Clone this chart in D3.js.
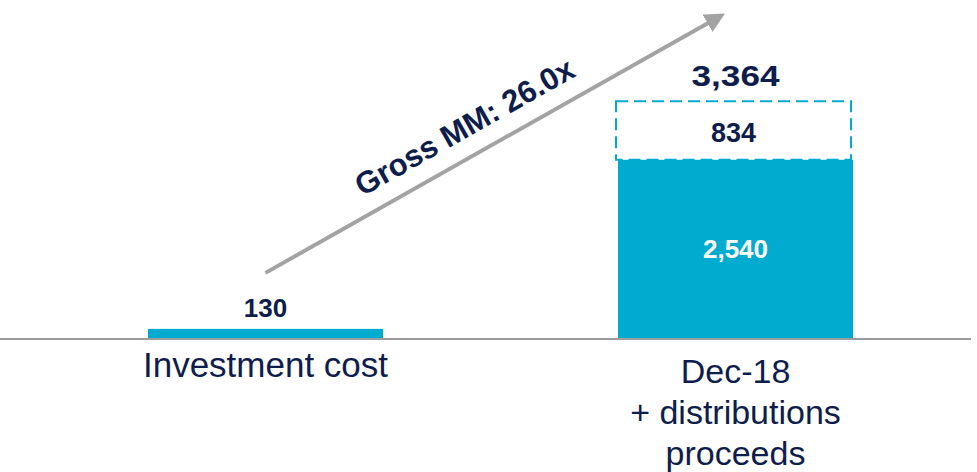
<!DOCTYPE html>
<html><head><meta charset="utf-8">
<script src="https://cdn.jsdelivr.net/npm/d3@7/dist/d3.min.js"></script>
<style>html,body{margin:0;padding:0;background:#fff;}svg{display:block;}</style>
</head><body>
<svg id="chart" width="977" height="472"></svg>
<script>
const categories = ["Investment cost", "Dec-18"];
const categoryLines = [["Investment cost"], ["Dec-18", "+ distributions", "proceeds"]];
const solidValues = [130, 2540];
const dashedValues = [0, 834];
const totalLabels = ["", "3,364"];
const solidLabels = ["130", "2,540"];
const dashedLabels = ["", "834"];
const arrowLabel = "Gross MM: 26.0x";

const navy = "#0e1d4c", teal = "#00abd0", grey = "#a3a3a3";
const font = "'Liberation Sans', Arial, sans-serif";
const svg = d3.select("#chart");

const x = d3.scaleBand().domain(categories).range([30.5, 970.5]).paddingInner(0.5).paddingOuter(0.25);
const y = d3.scaleLinear().domain([0, 3364]).range([338, 102]);

// solid bars
svg.selectAll("rect.solid").data(categories).join("rect")
  .attr("x", d => x(d)).attr("width", x.bandwidth())
  .attr("y", (d,i) => y(solidValues[i])).attr("height", (d,i) => y(0) - y(solidValues[i]))
  .attr("fill", teal);

// dashed bar
svg.selectAll("rect.dash").data(categories.filter((d,i)=>dashedValues[i]>0)).join("rect")
  .attr("x", d => x(d) - 2).attr("width", x.bandwidth())
  .attr("y", d => { const i = categories.indexOf(d); return y(solidValues[i] + dashedValues[i]); })
  .attr("height", d => { const i = categories.indexOf(d); return y(solidValues[i]) - y(solidValues[i] + dashedValues[i]); })
  .attr("fill", "none").attr("stroke", teal).attr("stroke-width", 2).attr("stroke-dasharray", "12,6");

// baseline
svg.append("line").attr("x1", 0).attr("x2", 971).attr("y1", y(0)+1).attr("y2", y(0)+1)
  .attr("stroke", "#9c9c9c").attr("stroke-width", 2);

// labels
categories.forEach((c, i) => {
  const cx = x(c) + x.bandwidth()/2;
  if (i === 0) {
    svg.append("text").attr("x", cx).attr("y", y(solidValues[i]) - 12).attr("text-anchor", "middle")
      .attr("font-family", font).attr("font-weight", "bold").attr("font-size", 26).attr("fill", navy).text(solidLabels[i]);
  } else {
    svg.append("text").attr("x", cx).attr("y", (y(solidValues[i]) + y(0))/2 + 9).attr("text-anchor", "middle")
      .attr("font-family", font).attr("font-weight", "bold").attr("font-size", 26).attr("fill", "#fff").text(solidLabels[i]);
  }
  if (dashedValues[i] > 0) {
    svg.append("text").attr("x", cx - 2).attr("y", (y(solidValues[i]) + y(solidValues[i]+dashedValues[i]))/2 + 11).attr("text-anchor", "middle")
      .attr("font-family", font).attr("font-weight", "bold").attr("font-size", 27).attr("fill", navy).text(dashedLabels[i]);
    svg.append("text").attr("x", cx).attr("y", y(solidValues[i]+dashedValues[i]) - 15).attr("text-anchor", "middle")
      .attr("font-family", font).attr("font-weight", "bold").attr("font-size", 29)
      .attr("textLength", 88).attr("lengthAdjust", "spacingAndGlyphs")
      .attr("fill", navy).text(totalLabels[i]);
  }
  categoryLines[i].forEach((ln, j) => {
    svg.append("text").attr("x", cx).attr("y", (i === 0 ? 377 : 383) + j*41).attr("text-anchor", "middle")
      .attr("font-family", font).attr("font-size", i === 0 ? 35 : 34).attr("fill", navy).text(ln);
  });
});

// arrow
const x1 = x(categories[0]) + x.bandwidth()/2, y1 = y(solidValues[0]) - 56;
const x2 = x(categories[1]) + x.bandwidth()/2 - 8, y2 = 12;
svg.append("defs").append("marker").attr("id", "ah").attr("viewBox", "0 0 10 10")
  .attr("refX", 8).attr("refY", 5).attr("markerWidth", 5).attr("markerHeight", 5)
  .attr("markerUnits", "strokeWidth").attr("orient", "auto")
  .append("path").attr("d", "M0,0 L10,5 L0,10 Z").attr("fill", grey);
svg.append("line").attr("x1", x1).attr("y1", y1).attr("x2", x2 - 6).attr("y2", y2 + 3.4)
  .attr("stroke", grey).attr("stroke-width", 4).attr("marker-end", "url(#ah)");
const ang = Math.atan2(y2 - y1, x2 - x1) * 180 / Math.PI;
const mx = x1 + (x2 - x1) * 0.44, my = y1 + (y2 - y1) * 0.44;
svg.append("text").attr("transform", `translate(${mx + 1},${my - 22}) rotate(${ang})`)
  .attr("text-anchor", "middle").attr("font-family", font).attr("font-weight", "bold")
  .attr("font-size", 31).attr("fill", navy).text(arrowLabel);
</script>
</body></html>
